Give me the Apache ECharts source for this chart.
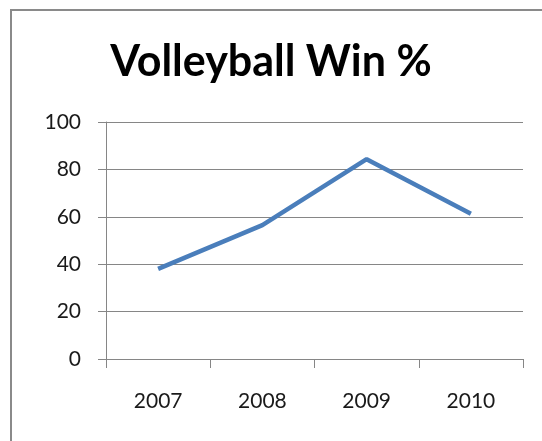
<!DOCTYPE html>
<html>
<head>
<meta charset="utf-8">
<script src="https://cdn.jsdelivr.net/npm/echarts@6/dist/echarts.min.js"></script>
<style>
  html, body { margin: 0; padding: 0; background: #fff; }
  #chart { width: 542px; height: 441px; }
</style>
</head>
<body>
<div id="chart"></div>
<script>
// 数据
const years = ['2007', '2008', '2009', '2010']
const winPct = [38, 56.5, 84.3, 61.3]
const yTicks = { min: 0, max: 100, step: 20 }

const chart = echarts.init(document.getElementById('chart'))
chart.setOption({
  backgroundColor: '#fff',
  animation: false,
  title: {
    text: 'Volleyball Win %',
    left: 'center',
    top: 36,
    textStyle: { fontFamily: 'Lato', fontWeight: 'bold', fontSize: 43, color: '#000' }
  },
  // 外框
  graphic: [{
    type: 'rect',
    shape: { x: 11, y: 10, width: 560, height: 460 },
    style: { fill: 'none', stroke: '#8a8a8a', lineWidth: 2 }
  }],
  grid: { left: 106, top: 122, right: 19, bottom: 82, containLabel: false, outerBoundsMode: 'none' },
  xAxis: {
    type: 'category',
    data: years,
    boundaryGap: true,
    axisLine: { lineStyle: { color: '#868686', width: 1 } },
    axisTick: { show: true, length: 9, lineStyle: { color: '#868686' } },
    axisLabel: { margin: 32, fontFamily: 'Lato', fontSize: 21, color: '#1a1a1a' }
  },
  yAxis: {
    type: 'value',
    min: yTicks.min,
    max: yTicks.max,
    interval: yTicks.step,
    axisLine: { show: true, lineStyle: { color: '#868686', width: 1 } },
    axisTick: { show: true, length: 8, lineStyle: { color: '#868686' } },
    axisLabel: { margin: 25, fontFamily: 'Lato', fontSize: 21, color: '#1a1a1a' },
    splitLine: { lineStyle: { color: '#868686', width: 1 } }
  },
  series: [{
    type: 'line',
    data: winPct,
    symbol: 'none',
    lineStyle: { color: '#4a7ebb', width: 4.5 }
  }]
})
</script>
</body>
</html>
